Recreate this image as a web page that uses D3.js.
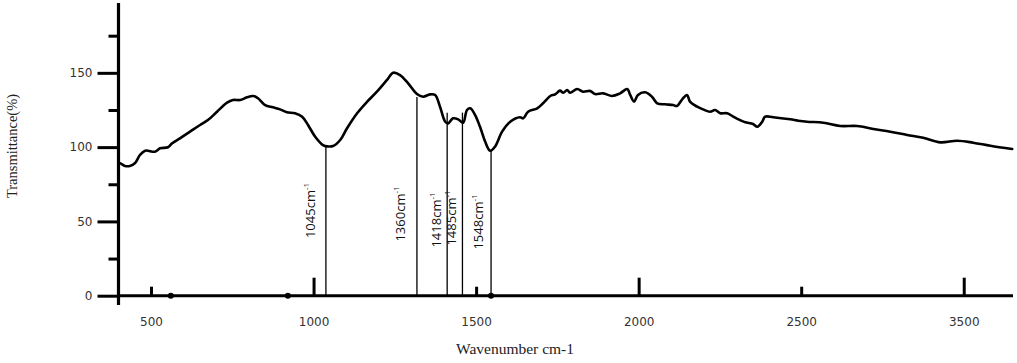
<!DOCTYPE html>
<html><head><meta charset="utf-8">
<script src="https://cdn.jsdelivr.net/npm/d3@7"></script>
<style>body{margin:0;background:#fff}svg{display:block}</style>
</head><body>
<svg id="c" width="1017" height="363"></svg>
<script>
// ---- data ----
const wavenumber = [401,405,420,435,451,466,482,512,528,552,565,589,620,651,675,703,734,752,774,795,814,829,851,875,897,918,943,965,983,1005,1029,1042,1060,1082,1103,1134,1165,1195,1226,1245,1266,1291,1318,1337,1358,1374,1389,1405,1414,1429,1445,1460,1472,1482,1497,1512,1528,1543,1558,1580,1605,1635,1645,1660,1688,1706,1728,1743,1758,1768,1780,1789,1811,1829,1851,1866,1891,1918,1943,1965,1974,1986,1998,2020,2041,2057,2082,2106,2118,2134,2149,2158,2180,2198,2220,2235,2251,2272,2291,2312,2328,2352,2365,2380,2389,2414,2466,2491,2518,2568,2620,2672,2722,2774,2826,2875,2928,2980,3029,3082,3149];
const transmittance = [89.1,89.1,87.3,87.3,89.3,94.7,97.6,96.9,99.2,99.9,102.6,105.9,110.4,114.9,118.2,123.8,129.9,131.7,131.7,133.5,134.4,132.9,128.3,126.8,125.4,123.4,122.8,120.5,114.9,107.0,101.4,100.5,100.7,104.8,112.7,122.8,130.6,137.3,145.2,150.1,148.5,142.9,135.7,133.9,135.5,135.1,127.2,117.1,116.0,119.4,118.7,116.4,125.0,126.1,121.6,113.7,103.6,97.6,100.3,110.4,117.1,120.1,119.4,123.8,126.1,129.5,134.4,135.5,138.0,136.6,138.4,136.6,139.1,137.3,137.8,135.7,136.2,134.4,136.2,139.1,135.1,130.6,135.1,136.9,133.9,129.5,128.8,128.3,127.7,132.2,135.1,130.6,127.2,125.4,123.8,125.0,122.8,122.8,120.5,118.2,116.7,115.6,113.7,117.1,120.5,120.1,118.7,117.8,117.1,116.4,114.2,114.2,112.2,110.4,108.2,106.3,103.2,104.3,103.0,100.9,98.7];

const xTickValues = [500,1000,1500,2000,2500,3000];
const xTickLabels = ["500","1000","1500","2000","2500","3500"];
const xTickMajor = [false,true,false,true,false,true];
const yMajorTicks = [0,50,100,150];
const yMinorTicks = [25,75,125,175];

const peakWavenumbers = [1038,1318,1411,1458,1546];
const peakTops = [100.5,133.7,123.2,123.2,98];
const peakLabels = ["1045cm","1360cm","1418cm","1485cm","1548cm"];
const markerWavenumbers = [561,921,1546];

// ---- layout ----
const labelDx = [-11,-12,-6,-6,-8];
const labelCy = [210.5,214,220,218,222];

const svg = d3.select("#c");
const x = d3.scaleLinear().domain([400,3150]).range([118.5,1012.5]);
const y = d3.scaleLinear().domain([0,197]).range([295.7,3]);

// y axis
const yMaj = svg.append("g").attr("transform","translate(118.5,0)")
  .call(d3.axisLeft(y).tickValues(yMajorTicks).tickSize(21).tickPadding(5).tickFormat(d3.format("d")));
yMaj.select(".domain").remove();
yMaj.selectAll("line").attr("stroke","#000").attr("stroke-width",3);
yMaj.selectAll("text").attr("font-family","DejaVu Sans").attr("font-size",12).attr("fill","#333");

const yMin = svg.append("g").attr("transform","translate(118.5,0)")
  .call(d3.axisLeft(y).tickValues(yMinorTicks).tickSize(10).tickFormat(""));
yMin.select(".domain").remove();
yMin.selectAll("line").attr("stroke","#000").attr("stroke-width",3);

svg.append("line").attr("x1",118.5).attr("x2",118.5).attr("y1",y(197)).attr("y2",305)
  .attr("stroke","#000").attr("stroke-width",3.2);

// x axis
const xAx = svg.append("g").attr("transform",`translate(0,${y(0)})`)
  .call(d3.axisBottom(x).tickValues(xTickValues).tickSize(0).tickPadding(22)
    .tickFormat((d,i)=>xTickLabels[i]));
xAx.select(".domain").remove();
xAx.selectAll("text").attr("font-family","DejaVu Sans").attr("font-size",12).attr("fill","#333");
xAx.selectAll(".tick").append("line")
  .attr("y1",0).attr("y2",(d,i)=>xTickMajor[i]?-18:-9)
  .attr("stroke","#000").attr("stroke-width",3);

svg.append("line").attr("x1",x(400)).attr("x2",1013).attr("y1",y(0)).attr("y2",y(0))
  .attr("stroke","#000").attr("stroke-width",3);

svg.selectAll("circle.mk").data(markerWavenumbers).enter().append("circle")
  .attr("class","mk").attr("cx",d=>x(d)).attr("cy",y(0)).attr("r",3).attr("fill","#000");

// peak lines
svg.selectAll("line.pk").data(peakWavenumbers).enter().append("line")
  .attr("class","pk")
  .attr("x1",d=>x(d)).attr("x2",d=>x(d))
  .attr("y1",(d,i)=>y(peakTops[i])).attr("y2",y(0))
  .attr("stroke","#000").attr("stroke-width",1.3);

const lbl = svg.selectAll("text.pl").data(peakLabels).enter().append("text")
  .attr("class","pl")
  .attr("transform",(d,i)=>`translate(${x(peakWavenumbers[i])+labelDx[i]},${labelCy[i]}) rotate(-90)`)
  .attr("text-anchor","middle")
  .attr("font-family","Open Sans").attr("font-size",13).attr("fill","#111");
lbl.append("tspan").text(d=>d);
lbl.append("tspan").attr("font-size",8).attr("dy",-6).text("-1");

// curve
const pts = wavenumber.map((w,i)=>[w,transmittance[i]]);
svg.append("path").datum(pts)
  .attr("d",d3.line().x(d=>x(d[0])).y(d=>y(d[1])).curve(d3.curveCatmullRom.alpha(0.5)))
  .attr("fill","none").attr("stroke","#000").attr("stroke-width",2.6)
  .attr("stroke-linejoin","round").attr("stroke-linecap","round");

// titles
svg.append("text").attr("transform","translate(17,146) rotate(-90)")
  .attr("text-anchor","middle").attr("font-family","Liberation Serif").attr("font-size",14.5)
  .attr("fill","#222").text("Transmittance(%)");
svg.append("text").attr("x",515).attr("y",354)
  .attr("text-anchor","middle").attr("font-family","Liberation Serif").attr("font-size",15.5)
  .attr("fill","#222").text("Wavenumber cm-1");
</script>
</body></html>
